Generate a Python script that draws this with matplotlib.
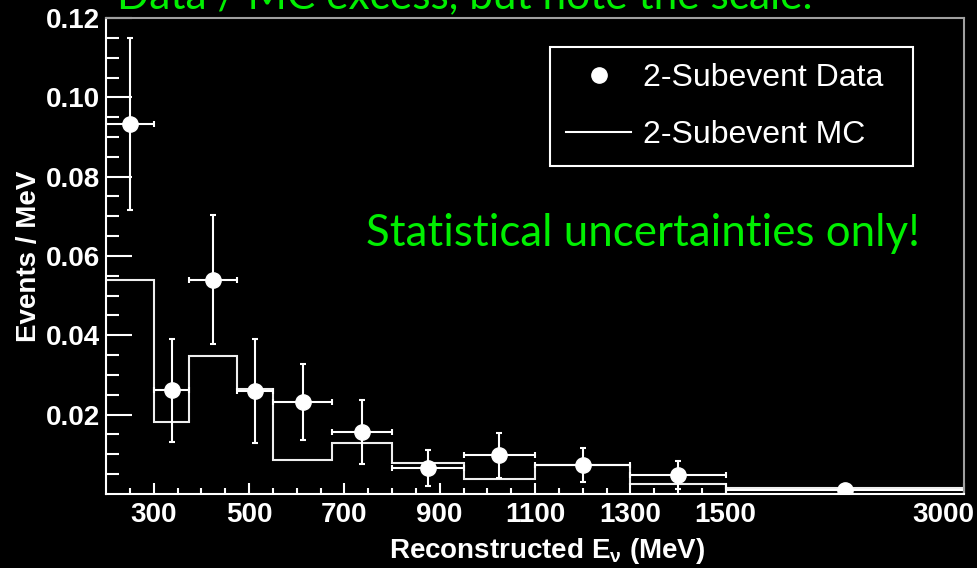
import numpy as np
import matplotlib.pyplot as plt
import matplotlib.transforms as mtransforms
from matplotlib.lines import Line2D

# Data (MiniBooNE 2-subevent sample)
bin_edges = [200, 300, 375, 475, 550, 675, 800, 950, 1100, 1300, 1500, 3000]
data_vals = [0.0933, 0.0261, 0.0540, 0.0260, 0.0232, 0.0156, 0.0066, 0.0098, 0.0073, 0.0048, 0.0011]
data_err = [0.0216, 0.0131, 0.0163, 0.0131, 0.0095, 0.0080, 0.0046, 0.0057, 0.0044, 0.0036, 0.0003]
mc_vals = [0.0539, 0.0181, 0.0348, 0.0265, 0.0086, 0.0129, 0.0078, 0.0037, 0.0072, 0.0026, 0.0015]
x_ticks = [300, 500, 700, 900, 1100, 1300, 1500, 3000]
y_ticks = [0.02, 0.04, 0.06, 0.08, 0.10, 0.12]

edges = np.array(bin_edges, dtype=float)
centers = (edges[:-1] + edges[1:]) / 2
half_w = (edges[1:] - edges[:-1]) / 2


# x axis is linear up to 1500 MeV, last bin squeezed by 3
def fwd(x):
    x = np.asarray(x, dtype=float)
    return np.where(x <= 1500, x, 1500 + (x - 1500) / 3.0)


def inv(x):
    x = np.asarray(x, dtype=float)
    return np.where(x <= 1500, x, 1500 + (x - 1500) * 3.0)


plt.rcParams['mathtext.fontset'] = 'custom'
plt.rcParams['mathtext.rm'] = 'Liberation Sans:bold'
plt.rcParams['mathtext.it'] = 'Liberation Sans:bold'
plt.rcParams['mathtext.bf'] = 'Liberation Sans:bold'

fig = plt.figure(figsize=(9.77, 5.68), dpi=100, facecolor='black')
ax = fig.add_axes([0.1085, 0.1303, 0.8782, 0.838], facecolor='black')
ax.set_xscale('function', functions=(fwd, inv))

ax.stairs(mc_vals, edges, baseline=None, color='#eeeeee', lw=1.5)
ax.errorbar(centers, data_vals, xerr=half_w, yerr=data_err, fmt='o', color='white',
            ms=11, elinewidth=1.5, capsize=2.5, capthick=1.5)

ax.set_xlim(200, 3000)
ax.set_ylim(0, 0.12)
ax.set_xticks(x_ticks)
ax.set_xticklabels([str(t) for t in x_ticks])
ax.set_xticks([m for m in range(250, 1500, 50) if m not in x_ticks], minor=True)
ax.set_yticks(y_ticks)
ax.set_yticklabels(['%.2f' % t for t in y_ticks])
ax.set_yticks(np.arange(0.005, 0.12, 0.005), minor=True)

lab_font = dict(family='Liberation Sans', weight='bold', size=20)
for lab in ax.get_xticklabels() + ax.get_yticklabels():
    lab.set_fontproperties('Liberation Sans')
    lab.set_fontweight('bold')
    lab.set_fontsize(20)
    lab.set_color('white')

ax.tick_params(axis='x', which='major', direction='in', length=8, width=1.5, color='white', pad=6)
ax.tick_params(axis='x', which='minor', direction='in', length=4.3, width=1.5, color='white')
ax.tick_params(axis='y', which='major', direction='in', length=19, width=1.5, color='white', pad=4)
ax.tick_params(axis='y', which='minor', direction='in', length=9.5, width=1.5, color='white')

# ROOT pulls the last label back inside the frame
last = ax.xaxis.get_major_ticks()[-1]
last.label1.set_transform(last.label1.get_transform()
                          + mtransforms.ScaledTranslation(-0.21, 0, fig.dpi_scale_trans))

for side in ['left', 'bottom']:
    ax.spines[side].set_color('white')
    ax.spines[side].set_linewidth(1.5)
for side in ['top', 'right']:
    ax.spines[side].set_color('#a0a0a0')
    ax.spines[side].set_linewidth(1.5)

ax.set_ylabel('Events / MeV', fontdict=lab_font, color='white')
ax.yaxis.set_label_coords(-0.075, 0.5)
ax.set_xlabel(r'Reconstructed E$_{\nu}$ (MeV)', fontdict=dict(lab_font, size=20), color='white', ha='right')
ax.xaxis.set_label_coords(0.698, -0.088)

handles = [Line2D([], [], marker='o', ls='none', color='white', ms=11),
           Line2D([], [], color='white', lw=1.5)]
leg = ax.legend(handles, ['2-Subevent Data', '2-Subevent MC'],
                bbox_to_anchor=(0.5175, 0.685, 0.423, 0.254), loc='upper left', mode='expand',
                borderaxespad=0,
                prop=dict(family='Liberation Sans', size=23), labelcolor='white',
                facecolor='black', edgecolor='white', framealpha=1, fancybox=False,
                handlelength=2.05, handletextpad=0.35, labelspacing=0.85, borderpad=0.5)
leg.get_frame().set_linewidth(1.5)

green = '#00f000'
fig.text(366 / 977, 1 - 246 / 568, 'Statistical uncertainties only!', color=green,
         family='Lato', fontsize=31.6, va='baseline', ha='left')
fig.text(117 / 977, 1 - 8 / 568, 'Data / MC excess, but note the scale.', color=green,
         family='Lato', fontsize=30.5, va='baseline', ha='left')

fig.savefig('out.png', dpi=100, facecolor='black')
